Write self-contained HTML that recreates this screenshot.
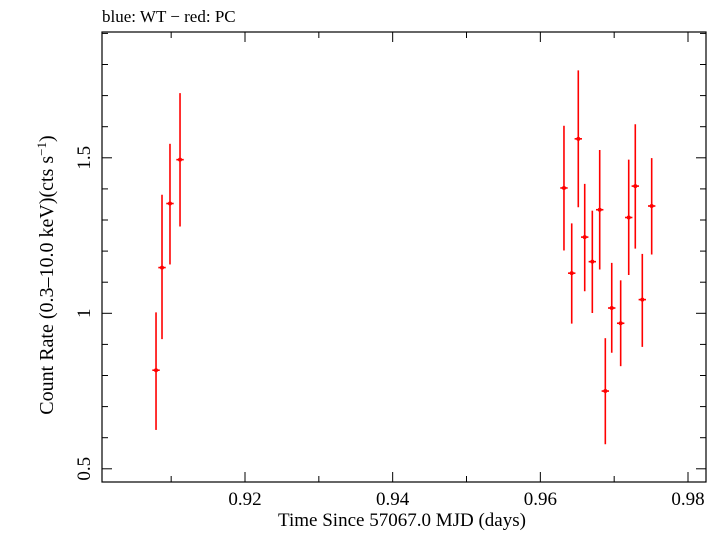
<!DOCTYPE html>
<html><head><meta charset="utf-8"><style>
body{margin:0;background:#fff;}
svg text{font-family:"Liberation Serif",serif;fill:#000;}
</style></head><body>
<svg id="chart" width="721" height="532" xmlns="http://www.w3.org/2000/svg">
<text x="102" y="22" font-size="17">blue: WT − red: PC</text>
<rect x="102" y="32" width="604" height="450" fill="none" stroke="#000" stroke-width="1.2"/>
<g id="axes"></g>
<g id="series"></g>
<text x="402" y="526" font-size="19" text-anchor="middle">Time Since 57067.0 MJD (days)</text>
<text transform="translate(53,275) rotate(-90)" font-size="20" text-anchor="middle">Count Rate (0.3–10.0 keV)(cts s<tspan font-size="13" dy="-7">−1</tspan><tspan dy="7">)</tspan></text>
</svg>
<script>
const times=[0.90795,0.90876,0.90984,0.91120,0.96320,0.96425,0.96514,0.96601,0.96704,0.96804,0.96880,0.96967,0.97088,0.97197,0.97286,0.97381,0.97508];
const rates=[0.817,1.147,1.353,1.494,1.403,1.129,1.561,1.245,1.166,1.333,0.750,1.017,0.968,1.308,1.409,1.044,1.345];
const rateLow=[0.625,0.917,1.157,1.279,1.202,0.967,1.341,1.071,1.001,1.141,0.579,0.873,0.830,1.123,1.208,0.892,1.189];
const rateHigh=[1.003,1.381,1.545,1.708,1.603,1.289,1.781,1.416,1.330,1.525,0.920,1.162,1.106,1.494,1.608,1.191,1.499];
const timeErr=0.0005;
const xTickLabels=["0.92","0.94","0.96","0.98"];
const yTickLabels=["0.5","1","1.5"];
const NS="http://www.w3.org/2000/svg";
function X(t){return 245+(t-0.92)*7383.5;}
function Y(v){return 313.3-(v-1)*311;}
const axes=document.getElementById('axes'),ser=document.getElementById('series');
function line(p,x1,y1,x2,y2,c,w){const l=document.createElementNS(NS,'line');l.setAttribute('x1',x1);l.setAttribute('y1',y1);l.setAttribute('x2',x2);l.setAttribute('y2',y2);l.setAttribute('stroke',c);l.setAttribute('stroke-width',w);p.appendChild(l);return l;}
for(let i=0;i<8;i++){const t=0.91+i*0.01;const x=X(t);if(x<103||x>705)continue;const major=(i%2==1);const len=major?10:6;
const a=line(axes,x,482,x,482-len,'#000',1);


const b=line(axes,x,32,x,32+len,'#000',1);

}
xTickLabels.forEach(s=>{const tx=document.createElementNS(NS,'text');tx.setAttribute('x',X(parseFloat(s)));tx.setAttribute('y',505);tx.setAttribute('font-size','19');tx.setAttribute('text-anchor','middle');tx.textContent=s;


axes.appendChild(tx);});
for(let i=5;i<=19;i++){const v=i/10;const y=Y(v);if(y<33||y>481)continue;const major=(i%5==0);const len=major?10:6;
const a=line(axes,102,y,102+len,y,'#000',1);


const b=line(axes,706,y,706-len,y,'#000',1);

}
yTickLabels.forEach(s=>{const tx=document.createElementNS(NS,'text');const y=Y(parseFloat(s));tx.setAttribute('transform','translate(90,'+y+') rotate(-90)');tx.setAttribute('font-size','19');tx.setAttribute('text-anchor','middle');tx.textContent=s;


axes.appendChild(tx);});
times.forEach((t,i)=>{const x=X(t),y=Y(rates[i]);
const v=line(ser,x,Y(rateHigh[i]),x,Y(rateLow[i]),'#f00',1.6);


const h=line(ser,X(t-timeErr),y,X(t+timeErr),y,'#f00',1.6);


const c=document.createElementNS(NS,'circle');c.setAttribute('cx',x);c.setAttribute('cy',y);c.setAttribute('r',2);c.setAttribute('fill','#f00');


ser.appendChild(c);});
</script>
</body></html>
